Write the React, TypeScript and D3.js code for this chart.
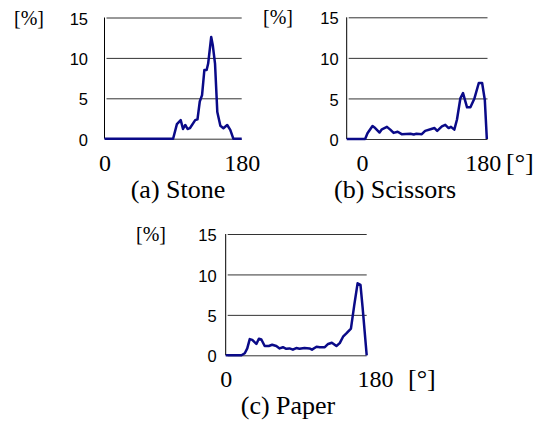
import { useEffect, useRef } from "react";
import * as d3 from "d3";

// angle [deg] / share [%]
const stoneAngle = [0, 90, 95, 100, 103, 106, 109, 112, 119, 122, 125, 128, 131, 134, 136, 140, 142, 145, 148, 152, 156, 161, 165, 169, 180];
const stoneValue = [0, 0, 1.8, 2.3, 1.2, 1.7, 1.2, 1.3, 2.3, 2.4, 4.6, 5.4, 8.5, 8.5, 9.3, 12.6, 11.6, 9.3, 3.3, 1.6, 1.3, 1.7, 1.1, 0, 0];

const scissorsAngle = [-23, 4.5, 8, 15.5, 19.5, 26, 29.5, 37, 42, 47, 53, 59, 72, 77, 81, 89, 94, 102, 108, 112, 119, 124, 129, 132.5, 137.5, 141.5, 146.5, 150.5, 156.5, 161.5, 167.5, 174, 179, 183, 186];
const scissorsValue = [0, 0, 0.7, 1.6, 1.35, 0.8, 1.2, 1.5, 1.15, 0.75, 0.9, 0.6, 0.65, 0.55, 0.65, 0.6, 1.0, 1.2, 1.35, 1.0, 1.55, 1.75, 1.35, 1.5, 1.15, 2.4, 5.0, 5.65, 3.9, 3.9, 5.0, 6.9, 6.9, 4.8, 0];

const paperAngle = [0, 19, 23, 26, 29, 32, 37, 40, 43, 47, 52, 56, 61, 65, 69, 73, 77, 81, 85, 89, 95, 101, 104, 109.5, 113.5, 119.5, 123.5, 128, 133.5, 137.5, 141.5, 145.5, 151, 155, 159, 162.5, 165, 170];
const paperValue = [0, 0, 0.25, 0.85, 2.0, 1.9, 1.4, 2.05, 1.95, 1.15, 1.15, 1.3, 1.15, 0.85, 1.0, 0.8, 0.85, 0.7, 0.9, 0.8, 0.9, 0.85, 0.7, 1.05, 1.0, 1.0, 1.4, 1.55, 1.15, 1.5, 2.3, 2.7, 3.3, 6.2, 8.9, 8.7, 6.0, 0];

const yTicks = [0, 5, 10, 15];
const xTicks = [0, 180];
const captions = ["(a) Stone", "(b) Scissors", "(c) Paper"];

const serif = "'Liberation Serif', 'Times New Roman', Times, Tinos, 'Nimbus Roman', 'Noto Serif', 'DejaVu Serif', serif";
const sans = "'Liberation Sans', Arial, sans-serif";
const lineColor = "#0a0a88";

// per-panel placement
const panels = [
  { angle: stoneAngle, value: stoneValue, caption: captions[0], left: 104.5, right: 241.7, top: 17.5, bottom: 138.7, xDomain: [0, 180], labelPad: 16.5, pctX: 14, capX: 178, degX: null },
  { angle: scissorsAngle, value: scissorsValue, caption: captions[1], left: 346.7, right: 487.5, top: 17.3, bottom: 139, xDomain: [-23, 187], labelPad: 8, pctX: 263, capX: 395, degX: 506 },
  { angle: paperAngle, value: paperValue, caption: captions[2], left: 225.7, right: 366.7, top: 234, bottom: 355.3, xDomain: [0, 170], labelPad: 9, pctX: 136, capX: 288, degX: 408 },
];

const App = () => {
  const ref = useRef<SVGSVGElement>(null);

  useEffect(() => {
    const svg = d3.select(ref.current);
    svg.selectAll("*").remove();

    panels.forEach((p) => {
      const w = p.right - p.left;
      const x = d3.scaleLinear().domain(p.xDomain).range([p.left, p.right]);
      const y = d3.scaleLinear().domain([0, 15]).range([p.bottom, p.top]);
      const g = svg.append("g");

      // gridlines + y labels
      const ya = g.append("g")
        .attr("transform", `translate(${p.left},0)`)
        .call(d3.axisLeft(y).tickValues(yTicks).tickSize(-w).tickPadding(p.labelPad));
      ya.select(".domain").remove();
      ya.selectAll(".tick line").attr("stroke", "#333").attr("x1", 2);
      ya.selectAll(".tick text")
        .style("font-family", sans)
        .style("font-size", "16.5px")
        .attr("fill", "#000")
        .attr("dy", "0.4em");

      // y axis line
      g.append("line")
        .attr("x1", p.left).attr("x2", p.left)
        .attr("y1", y(15)).attr("y2", y(0))
        .attr("stroke", "#000");

      // x labels
      const xa = g.append("g")
        .attr("transform", `translate(0,${p.bottom})`)
        .call(d3.axisBottom(x).tickValues(xTicks).tickSize(0).tickFormat(d3.format("d")));
      xa.select(".domain").remove();
      xa.selectAll(".tick text")
        .attr("y", 32)
        .attr("dy", 0)
        .style("font-family", serif)
        .style("font-size", "24px")
        .attr("fill", "#000");

      const line = d3.line<number>()
        .x((_, i) => x(p.angle[i]))
        .y((d) => y(d));

      g.append("path")
        .datum(p.value)
        .attr("d", line)
        .attr("fill", "none")
        .attr("stroke", lineColor)
        .attr("stroke-width", 2.5)
        .attr("stroke-linejoin", "round");

      g.append("text")
        .attr("x", p.pctX)
        .attr("y", p.top + 7)
        .style("font-family", serif)
        .style("font-size", "20px")
        .text("[%]");

      if (p.degX !== null) {
        g.append("text")
          .attr("x", p.degX)
          .attr("y", p.bottom + 32)
          .style("font-family", serif)
          .style("font-size", "26px")
          .text("[°]");
      }

      g.append("text")
        .attr("x", p.capX)
        .attr("y", p.bottom + 59)
        .attr("text-anchor", "middle")
        .style("font-family", serif)
        .style("font-size", "26px")
        .text(p.caption);
    });
  }, []);

  return (
    <svg
      ref={ref}
      width={545}
      height={428}
      style={{ position: "absolute", left: 0, top: 0, background: "#fff" }}
    />
  );
};

export default App;
